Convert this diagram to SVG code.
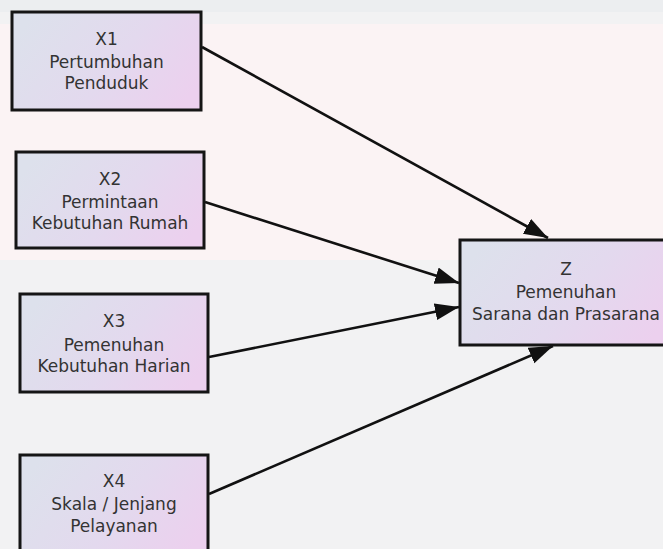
<svg xmlns="http://www.w3.org/2000/svg" width="663" height="549" viewBox="0 0 663 549">
  <defs>
    <linearGradient id="boxfill" x1="0" y1="0.3" x2="1" y2="0.7">
      <stop offset="0" stop-color="#dde1ec"/>
      <stop offset="0.55" stop-color="#e3d9ee"/>
      <stop offset="1" stop-color="#ecd0ee"/>
    </linearGradient>
    <marker id="arrow" markerWidth="26" markerHeight="18" refX="24" refY="8.5" orient="auto" markerUnits="userSpaceOnUse">
      <path d="M0,0 L24,8.5 L0,17 z" fill="#111"/>
    </marker>
    <style>
      .box { fill: url(#boxfill); stroke: #151515; stroke-width: 3; }
      .lbl { font-family: "DejaVu Sans", Verdana, sans-serif; font-size: 17px; fill: #333; text-anchor: middle; }
      .edge { stroke: #111; stroke-width: 2.6; fill: none; marker-end: url(#arrow); }
    </style>
  </defs>

  <!-- background -->
  <rect x="0" y="0" width="663" height="549" fill="#f2f2f3"/>
  <rect x="0" y="24" width="663" height="236" fill="#fbf3f4"/>
  <rect x="0" y="0" width="663" height="12" fill="#eceef0"/>

  <g id="connectors">
    <line class="edge" x1="202" y1="47" x2="548" y2="238"/>
    <line class="edge" x1="205" y1="202" x2="459" y2="283"/>
    <line class="edge" x1="209" y1="357" x2="459" y2="307"/>
    <line class="edge" x1="209" y1="494" x2="553" y2="346"/>
  </g>

  <g id="X1">
    <rect class="box" x="12" y="12" width="189" height="98"/>
    <text class="lbl" x="106.5" y="45">X1</text>
    <text class="lbl" x="106.5" y="68">Pertumbuhan</text>
    <text class="lbl" x="106.5" y="89">Penduduk</text>
  </g>

  <g id="X2">
    <rect class="box" x="16" y="152" width="188" height="96"/>
    <text class="lbl" x="110" y="185">X2</text>
    <text class="lbl" x="110" y="208">Permintaan</text>
    <text class="lbl" x="110" y="229">Kebutuhan Rumah</text>
  </g>

  <g id="X3">
    <rect class="box" x="20" y="294" width="188" height="98"/>
    <text class="lbl" x="114" y="327">X3</text>
    <text class="lbl" x="114" y="351">Pemenuhan</text>
    <text class="lbl" x="114" y="372">Kebutuhan Harian</text>
  </g>

  <g id="X4">
    <rect class="box" x="20" y="455" width="188" height="100"/>
    <text class="lbl" x="114" y="487">X4</text>
    <text class="lbl" x="114" y="510">Skala / Jenjang</text>
    <text class="lbl" x="114" y="532">Pelayanan</text>
  </g>

  <g id="Z">
    <rect class="box" x="460" y="240" width="212" height="105"/>
    <text class="lbl" x="566" y="275">Z</text>
    <text class="lbl" x="566" y="298">Pemenuhan</text>
    <text class="lbl" x="566" y="320">Sarana dan Prasarana</text>
  </g>
</svg>
